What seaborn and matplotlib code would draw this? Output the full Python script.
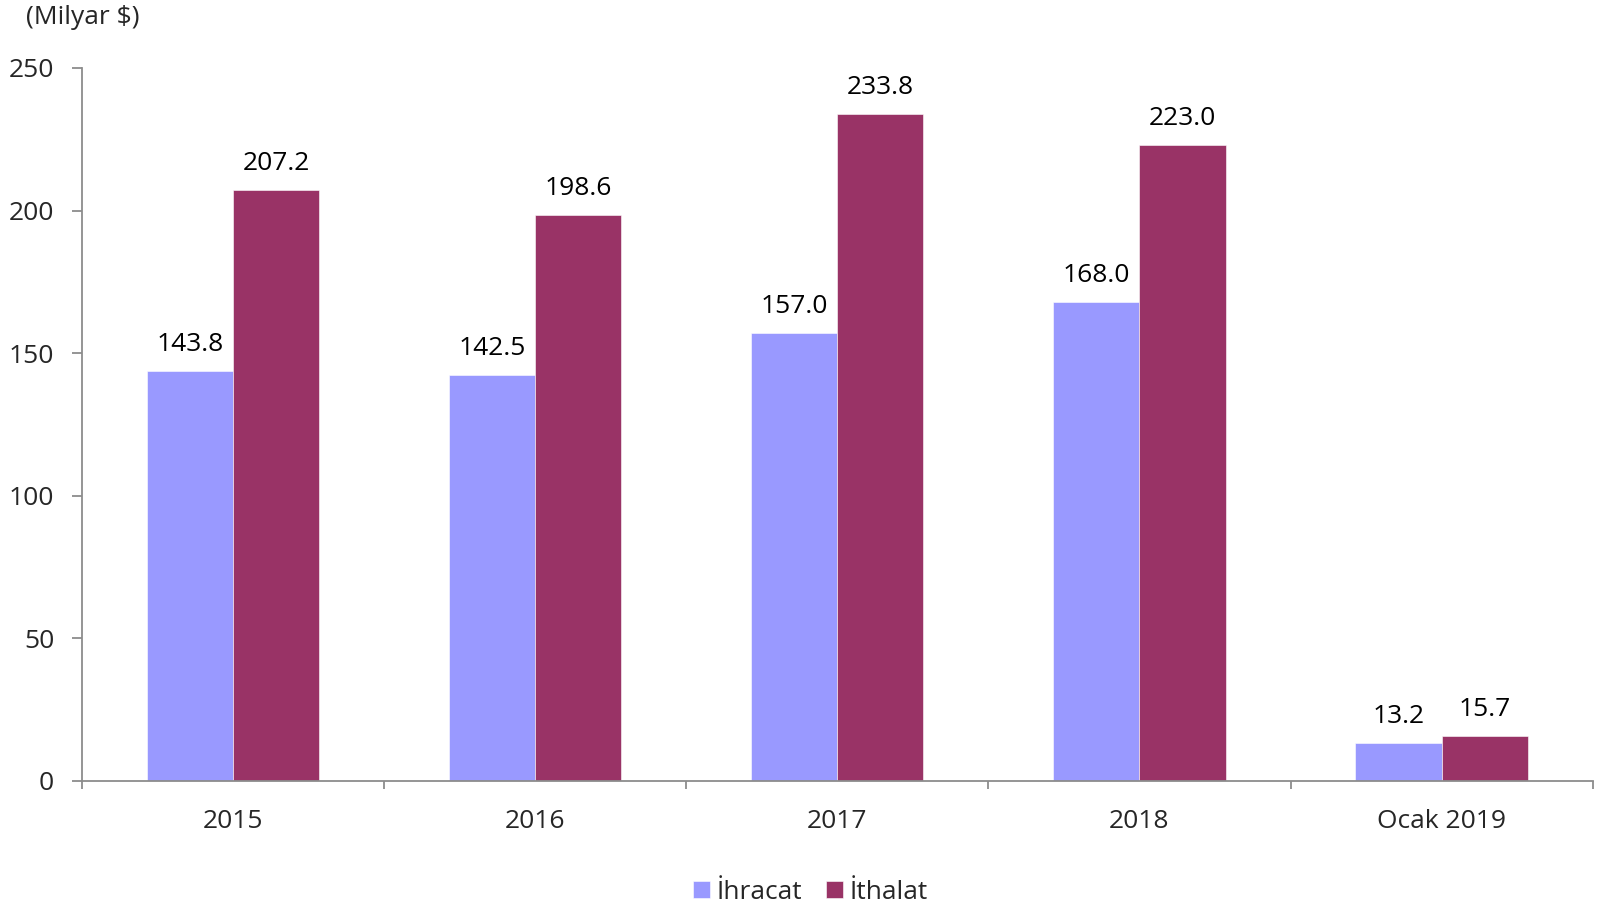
import matplotlib
matplotlib.use("Agg")
import matplotlib.pyplot as plt
import seaborn as sns
import pandas as pd
import numpy as np

# Dış ticaret verileri (milyar $)
periods = ["2015", "2016", "2017", "2018", "Ocak 2019"]
ihracat = [143.8, 142.5, 157.0, 168.0, 13.2]
ithalat = [207.2, 198.6, 233.8, 223.0, 15.7]
series = ["İhracat", "İthalat"]
colors = ["#9999FF", "#993366"]
y_ticks = [0, 50, 100, 150, 200, 250]

df = pd.DataFrame({
    "Dönem": periods * 2,
    "Değer": ihracat + ithalat,
    "Seri": [series[0]] * len(periods) + [series[1]] * len(periods),
})

sns.set_theme(style="white")
plt.rcParams["font.family"] = ["Open Sans", "DejaVu Sans"]
FS = 19

fig = plt.figure(figsize=(15.97, 9.06), dpi=100)
ax = fig.add_axes([0.0513, 0.138, 0.946, 0.787])

sns.barplot(data=df, x="Dönem", y="Değer", hue="Seri", hue_order=series,
            order=periods, palette=colors, width=0.57, gap=0,
            edgecolor="white", linewidth=0.4, saturation=1, ax=ax)

for cont in ax.containers:
    ax.bar_label(cont, fmt="%.1f", padding=10, fontsize=FS, color="black")

ax.set_ylim(0, 250)
ax.set_xlim(-0.5, len(periods) - 0.5)
ax.set_yticks(y_ticks)
ax.set_yticklabels([str(v) for v in y_ticks], fontsize=FS)
ax.set_xticks(range(len(periods)))
ax.set_xticklabels(periods, fontsize=FS)
ax.set_xticks(np.arange(-0.5, len(periods), 1.0), minor=True)
ax.tick_params(axis="x", which="major", length=0, pad=20)
ax.tick_params(axis="x", which="minor", length=6, width=1.3, color="#8c8c8c",
               direction="out", bottom=True)
ax.tick_params(axis="y", which="major", length=7, width=1.3, color="#8c8c8c",
               direction="out", left=True, pad=13)
ax.set_xlabel("")
ax.set_ylabel("")

for side in ["top", "right"]:
    ax.spines[side].set_visible(False)
for side in ["left", "bottom"]:
    ax.spines[side].set_color("#8c8c8c")
    ax.spines[side].set_linewidth(1.3)

handles, labels = ax.get_legend_handles_labels()
ax.legend(handles, labels, loc="center", bbox_to_anchor=(0.482, -0.156),
          ncol=2, frameon=False, fontsize=FS, handlelength=0.65,
          handleheight=0.65, handletextpad=0.25, columnspacing=0.9)

fig.text(0.016, 0.981, "(Milyar $)", fontsize=FS, ha="left", va="center")

fig.savefig("out.png", dpi=100, facecolor="white")
